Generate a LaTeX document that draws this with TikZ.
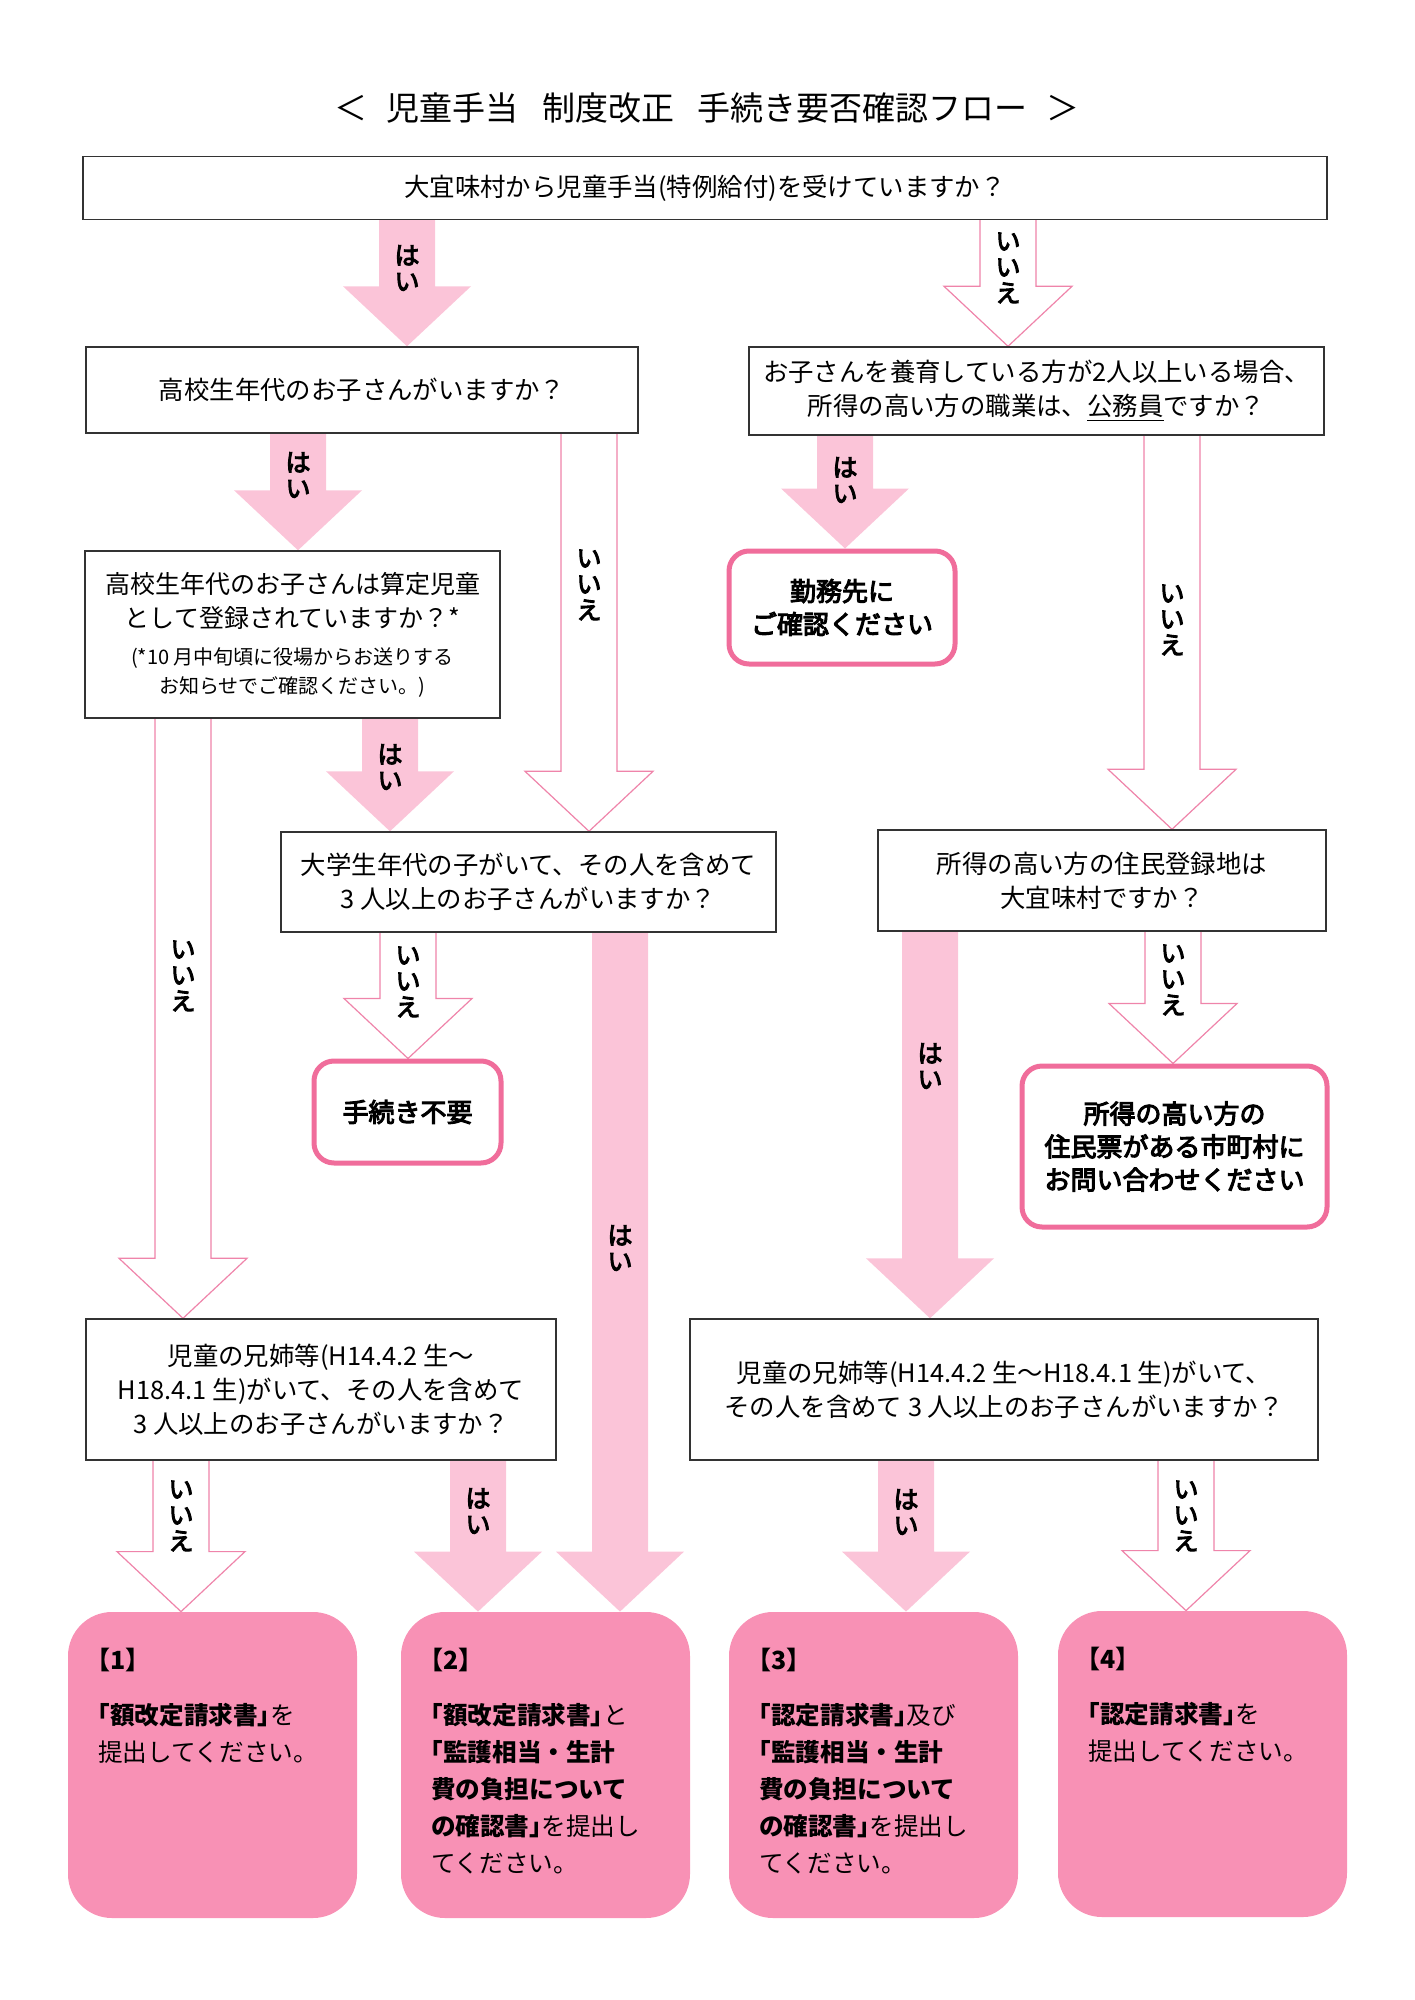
\documentclass[tikz,border=0pt]{standalone}
\usepackage{fontspec}
\setmainfont{Noto Sans CJK JP}
\newfontfamily\medfont[FakeBold=4]{Noto Sans CJK JP}
\usetikzlibrary{calc,backgrounds}

\definecolor{arrowpink}{HTML}{FBC4D8}
\definecolor{linepink}{HTML}{EF84AA}
\definecolor{borderpink}{HTML}{F06D9B}
\definecolor{resultpink}{HTML}{F891B5}

% half width brackets
\newcommand{\hb}[1]{{\addfontfeature{RawFeature=+halt}#1}}

% block arrow: style, x, from node, to node, label, label y
\newcommand{\flowarrow}[6]{%
  \coordinate (fa_x) at (#2,0);
  \coordinate (fa_from) at (fa_x |- #3.south);
  \coordinate (fa_to) at (fa_x |- #4.north);
  \path[#1] ($(fa_from)+(-28,0)$) -- ($(fa_to)+(-28,-60)$) -- ($(fa_to)+(-64,-60)$)
    -- (fa_to) -- ($(fa_to)+(64,-60)$) -- ($(fa_to)+(28,-60)$) -- ($(fa_from)+(28,0)$);
  \node[arrow_label] at (#2,#6) {#5};
}

\begin{document}
\begin{tikzpicture}[x=0.5pt, y=-0.5pt,
    title_text/.style ={font=\fontsize{16.5}{20}\selectfont, inner sep=0pt},
    block_question/.style ={rectangle, draw=black!80, line width=0.7pt, fill=white,
      align=center, font=\fontsize{12.7}{17}\selectfont},
    block_end/.style ={rectangle, rounded corners=10pt, draw=borderpink, line width=2.5pt,
      fill=white, align=center, font=\medfont\fontsize{13}{16.5}\selectfont},
    block_result/.style ={rectangle, rounded corners=22pt, fill=resultpink,
      minimum width=144.5pt, minimum height=153pt},
    result_text/.style ={anchor=north west, align=left, inner sep=0pt,
      font=\fontsize{12.3}{18.5}\selectfont},
    arrow_yes/.style ={fill=arrowpink},
    arrow_no/.style ={fill=white, draw=linepink, line width=0.6pt},
    arrow_label/.style ={align=center, inner sep=0pt,
      font=\medfont\fontsize{12.5}{13}\selectfont}]
    \useasboundingbox (0,0) rectangle (1414,2000);

    % title
    \node[title_text] (title) at (707,108)
      {＜\hspace{0.6em}児童手当\hspace{0.7em}制度改正\hspace{0.7em}手続き要否確認フロー\hspace{0.6em}＞};

    % questions
    \node[block_question, minimum width=622pt, minimum height=31.5pt] (q0) at (705,188)
      {大宜味村から児童手当(特例給付)を受けていますか？};
    \node[block_question, minimum width=276pt, minimum height=43pt] (q1) at (362,390)
      {高校生年代のお子さんがいますか？};
    \node[block_question, minimum width=287.5pt, minimum height=44pt] (q2) at (1036.5,391)
      {お子さんを養育している方が2人以上いる場合、\\所得の高い方の職業は、\underline{公務員}ですか？};
    \node[block_question, minimum width=207.5pt, minimum height=83.5pt] (q1b) at (292.5,634.5)
      {\fontsize{12.5}{15.5}\selectfont 高校生年代のお子さんは算定児童\\
       \fontsize{12.5}{15.5}\selectfont として登録されていますか？*\\[1.5pt]
       \fontsize{10}{13}\selectfont (*10 月中旬頃に役場からお送りする\\[-2.5pt]
       \fontsize{10}{13}\selectfont お知らせでご確認ください。)};
    \node[block_question, minimum width=247.5pt, minimum height=50pt] (q3) at (528.5,882)
      {大学生年代の子がいて、その人を含めて\\3 人以上のお子さんがいますか？};
    \node[block_question, minimum width=224pt, minimum height=50.5pt] (q4) at (1102,880.5)
      {所得の高い方の住民登録地は\\大宜味村ですか？};
    \node[block_question, minimum width=235pt, minimum height=70.5pt] (q5) at (321,1389.5)
      {児童の兄姉等(H14.4.2 生～\\H18.4.1 生)がいて、その人を含めて\\3 人以上のお子さんがいますか？};
    \node[block_question, minimum width=314pt, minimum height=70.5pt] (q6) at (1004,1389.5)
      {児童の兄姉等(H14.4.2 生～H18.4.1 生)がいて、\\その人を含めて 3 人以上のお子さんがいますか？};

    % end points
    \node[block_end, minimum width=113pt, minimum height=56.5pt] (end0) at (842,607.5)
      {勤務先に\\ご確認ください};
    \node[block_end, minimum width=93.5pt, minimum height=51pt] (end1) at (407.5,1112)
      {手続き不要};
    \node[block_end, minimum width=152.5pt, minimum height=80.5pt] (end2) at (1174.5,1146.5)
      {所得の高い方の\\住民票がある市町村に\\お問い合わせください};

    % results
    \node[block_result] (r1) at (212.5,1765) {};
    \node[block_result] (r2) at (545.5,1765) {};
    \node[block_result] (r3) at (873.5,1765) {};
    \node[block_result] (r4) at (1202.5,1764) {};
    \node[result_text] (r1_text) at ($(r1.north west)+(30,36)$)
      {{\bfseries\fontsize{12.5}{18.5}\selectfont\hb{【}1\hb{】}}\\[9pt]
       \textbf{\hb{「}額改定請求書\hb{」}}を\\提出してください。};
    \node[result_text] (r2_text) at ($(r2.north west)+(30,36)$)
      {{\bfseries\fontsize{12.5}{18.5}\selectfont\hb{【}2\hb{】}}\\[9pt]
       \textbf{\hb{「}額改定請求書\hb{」}}と\\\textbf{\hb{「}監護相当・生計}\\
       \textbf{費の負担について}\\\textbf{の確認書\hb{」}}を提出し\\てください。};
    \node[result_text] (r3_text) at ($(r3.north west)+(30,36)$)
      {{\bfseries\fontsize{12.5}{18.5}\selectfont\hb{【}3\hb{】}}\\[9pt]
       \textbf{\hb{「}認定請求書\hb{」}}及び\\\textbf{\hb{「}監護相当・生計}\\
       \textbf{費の負担について}\\\textbf{の確認書\hb{」}}を提出し\\てください。};
    \node[result_text] (r4_text) at ($(r4.north west)+(30,36)$)
      {{\bfseries\fontsize{12.5}{18.5}\selectfont\hb{【}4\hb{】}}\\[9pt]
       \textbf{\hb{「}認定請求書\hb{」}}を\\提出してください。};

    % connecting boxes with block arrows
    \begin{scope}[on background layer]
      \flowarrow{arrow_yes}{407}{q0}{q1}{は\\い}{268}
      \flowarrow{arrow_no}{1008}{q0}{q2}{い\\い\\え}{268}
      \flowarrow{arrow_yes}{298}{q1}{q1b}{は\\い}{475}
      \flowarrow{arrow_no}{589}{q1}{q3}{い\\い\\え}{585}
      \flowarrow{arrow_yes}{845}{q2}{end0}{は\\い}{480}
      \flowarrow{arrow_no}{1172}{q2}{q4}{い\\い\\え}{620}
      \flowarrow{arrow_no}{183}{q1b}{q5}{い\\い\\え}{976}
      \flowarrow{arrow_yes}{390}{q1b}{q3}{は\\い}{767}
      \flowarrow{arrow_no}{408}{q3}{end1}{い\\い\\え}{982}
      \flowarrow{arrow_yes}{620}{q3}{r2}{は\\い}{1248}
      \flowarrow{arrow_yes}{930}{q4}{q6}{は\\い}{1066}
      \flowarrow{arrow_no}{1173}{q4}{end2}{い\\い\\え}{980}
      \flowarrow{arrow_no}{181}{q5}{r1}{い\\い\\え}{1516}
      \flowarrow{arrow_yes}{478}{q5}{r2}{は\\い}{1511}
      \flowarrow{arrow_yes}{906}{q6}{r3}{は\\い}{1512}
      \flowarrow{arrow_no}{1186}{q6}{r4}{い\\い\\え}{1516}
    \end{scope}
\end{tikzpicture}
\end{document}
